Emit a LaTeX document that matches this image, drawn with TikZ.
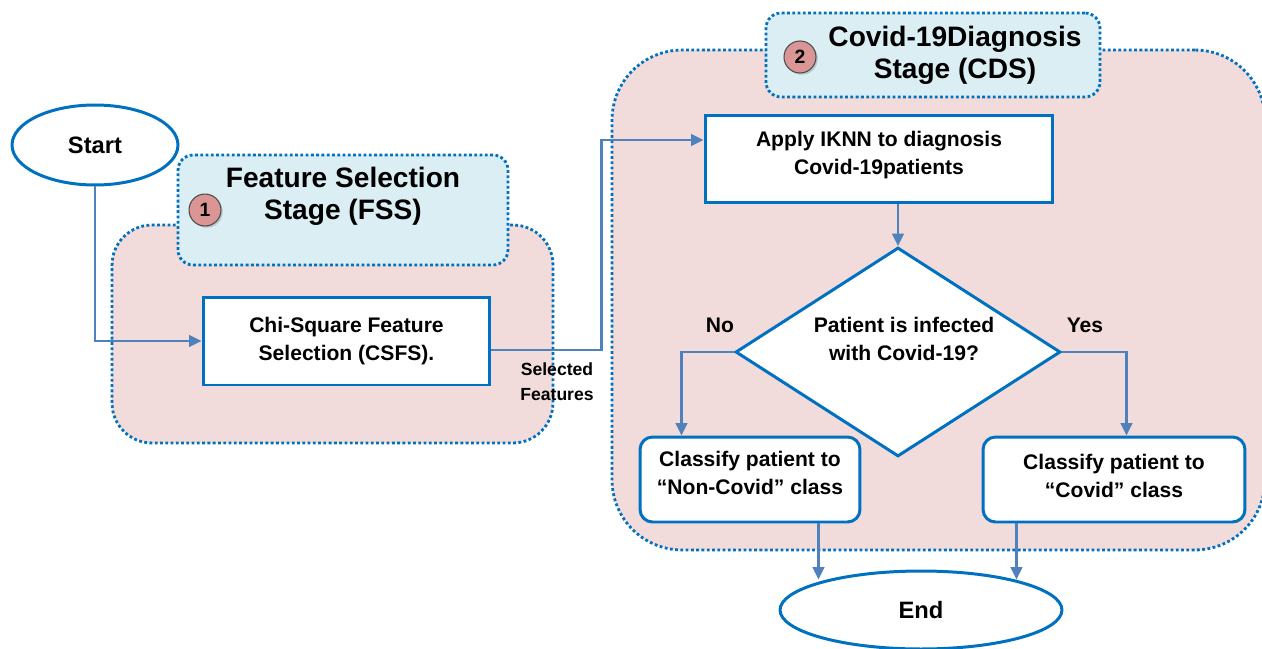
\documentclass[tikz,border=0pt]{standalone}
\usepackage{fontspec}
\setmainfont{Liberation Sans}
\usetikzlibrary{shapes.geometric,arrows.meta,calc,shadows}
\definecolor{boxblue}{RGB}{0,112,192}
\definecolor{flowblue}{RGB}{79,129,189}
\definecolor{stagepink}{RGB}{242,220,219}
\definecolor{titleblue}{RGB}{218,238,243}
\definecolor{badgered}{RGB}{217,150,148}
\begin{document}
\begin{tikzpicture}[x=0.02cm,y=-0.02cm,font=\bfseries,
    stage/.style={draw=boxblue,fill=stagepink,line width=1.6pt,dash pattern=on 1.6pt off 1.4pt},
    stagetitle/.style={draw=boxblue,fill=titleblue,line width=1.6pt,dash pattern=on 1.6pt off 1.4pt,rounded corners=0.3cm},
    badge/.style={circle,draw=black!70,fill=badgered,line width=0.6pt,minimum size=0.64cm,inner sep=0pt,
        font=\bfseries\fontsize{11}{11}\selectfont,drop shadow={opacity=0.35,shadow xshift=1pt,shadow yshift=-1pt}},
    terminal/.style={ellipse,draw=boxblue,fill=white,line width=1.7pt,font=\bfseries\fontsize{13.5}{14}\selectfont},
    process/.style={rectangle,draw=boxblue,fill=white,line width=1.7pt,align=center,font=\bfseries\fontsize{12}{16}\selectfont},
    flow/.style={draw=flowblue,line width=1.4pt,-{Triangle[length=7pt,width=6.5pt]}}]
\useasboundingbox (0,0) rectangle (1262,649);
% stages
\node[stage,rounded corners=0.8cm,minimum width=8.82cm,minimum height=4.36cm] (fss) at (332.5,334) {};
\node[stage,rounded corners=1.4cm,minimum width=13.06cm,minimum height=10cm] (cds) at (938.5,300) {};
\node[stagetitle,minimum width=6.6cm,minimum height=2.2cm] (fsstitle) at (343,210) {};
\node[stagetitle,minimum width=6.68cm,minimum height=1.68cm] (cdstitle) at (933,55) {};
\node[align=center,font=\bfseries\fontsize{16}{18}\selectfont] (fsslabel) at (343,196) {Feature Selection\\Stage (FSS)};
\node[align=center,font=\bfseries\fontsize{16}{18}\selectfont] (cdslabel) at (955,55) {Covid-19Diagnosis\\Stage (CDS)};
\node[badge] (one) at (205,210) {1};
\node[badge] (two) at (800,57) {2};
% flow nodes
\node[terminal,minimum width=3.32cm,minimum height=1.6cm] (start) at (95,145) {Start};
\node[process,minimum width=5.74cm,minimum height=1.76cm] (csfs) at (346.5,341) {Chi-Square Feature\\Selection (CSFS).};
\node[process,minimum width=6.96cm,minimum height=1.76cm,text depth=7pt] (apply) at (879,159) {Apply IKNN to diagnosis\\Covid-19patients};
\node[diamond,draw=boxblue,fill=white,line width=1.7pt,minimum width=6.5cm,minimum height=4.18cm,inner sep=0pt] (infected) at (898,352) {};
\node[align=center,font=\bfseries\fontsize{12}{16}\selectfont] (infectedtext) at (904,339) {Patient is infected\\with Covid-19?};
\node[process,rounded corners=0.25cm,minimum width=4.4cm,minimum height=1.7cm,text depth=8pt] (noncovid) at (750,479.5) {Classify patient to\\``Non-Covid'' class};
\node[process,rounded corners=0.25cm,minimum width=5.24cm,minimum height=1.7cm,text depth=4pt] (covid) at (1114,479.5) {Classify patient to\\``Covid'' class};
\node[terminal,minimum width=5.64cm,minimum height=1.56cm] (end) at (921,610) {End};
% connectors
\draw[flow] (start.south) |- (csfs.west);
\draw[flow] ($(csfs.east)+(0,9)$) -- ++(110,0) |- ($(apply.west)+(0,-19)$);
\node[align=center,font=\bfseries\fontsize{10}{14}\selectfont] (selected) at (557,382) {Selected\\Features};
\draw[flow] (apply.south -| infected.north) -- (infected.north);
\draw[flow] (infected.west) -| ($(noncovid.north west)+(43,0)$);
\draw[flow] (infected.east) -| ($(covid.north west)+(145,0)$);
\node[font=\bfseries\fontsize{12}{14}\selectfont] (no) at (720,325) {No};
\node[font=\bfseries\fontsize{12}{14}\selectfont] (yes) at (1085,325) {Yes};
\coordinate (noout) at ($(noncovid.south west)+(180,0)$);
\coordinate (yesout) at ($(covid.south west)+(35,0)$);
\draw[flow] (noout) -- (noout |- end.162);
\draw[flow] (yesout) -- (yesout |- end.18);
\end{tikzpicture}
\end{document}
